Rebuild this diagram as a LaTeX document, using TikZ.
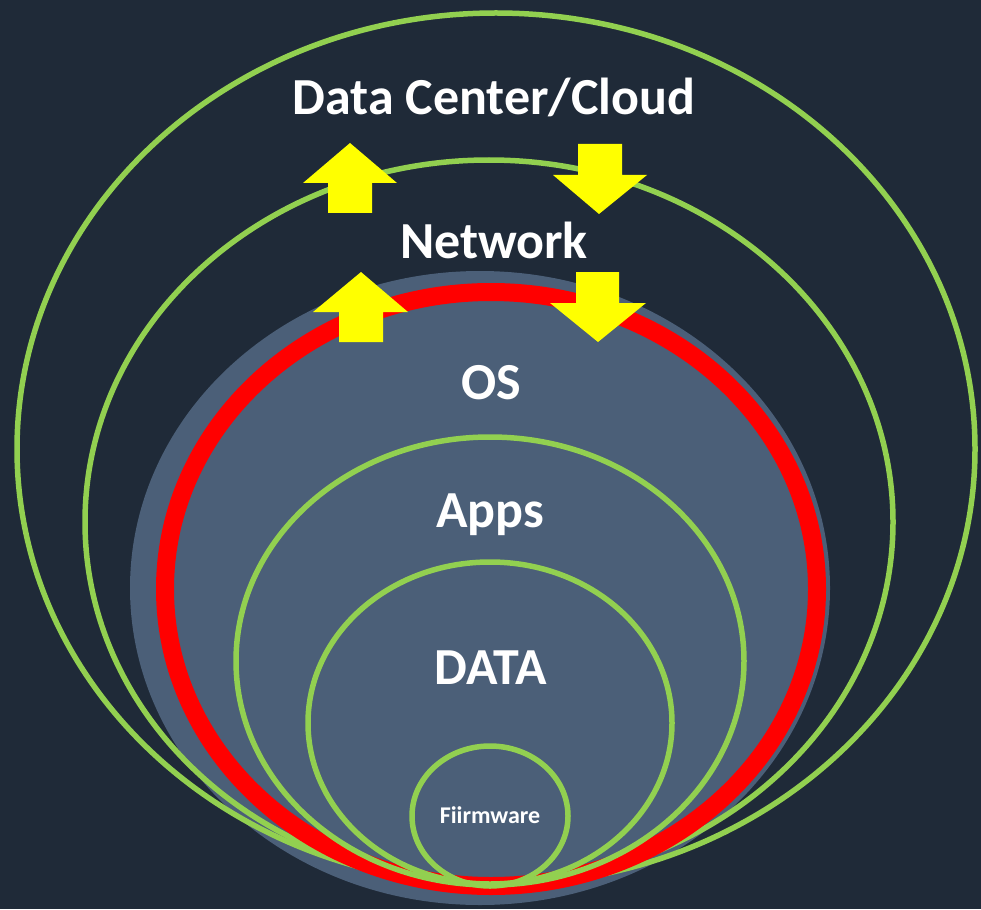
\documentclass[tikz,border=0pt]{standalone}
\usepackage{fontspec}
\setmainfont{Carlito}
\definecolor{bgnavy}{RGB}{31,42,56}
\definecolor{osfill}{RGB}{75,95,120}
\definecolor{ringgreen}{RGB}{146,208,80}
\definecolor{ringred}{RGB}{255,0,0}
\definecolor{flowyellow}{RGB}{255,255,0}
\tikzset{
  ring/.style={draw=ringgreen, line width=5.5pt},
  redring/.style={draw=ringred, line width=18pt},
  layerlabel/.style={text=white, font=\bfseries\fontsize{52}{56}\selectfont, inner sep=0pt},
  smalllabel/.style={text=white, font=\bfseries\fontsize{24}{28}\selectfont, inner sep=0pt},
  flowarrow/.style={fill=flowyellow, draw=none}
}
\begin{document}
\begin{tikzpicture}[x=1pt,y=-1pt]
\useasboundingbox (0,0) rectangle (981,909);
\fill[bgnavy] (0,0) rectangle (981,909);

% device body
\fill[osfill] (480,588) ellipse [x radius=350pt, y radius=317pt];

% outer layers
\draw[ring] (496,449) ellipse [x radius=479pt, y radius=436pt];
\draw[ring] (489,522) ellipse [x radius=404pt, y radius=362pt];

% red boundary of the device
\draw[redring] (491,589) ellipse [x radius=326pt, y radius=297pt];

% inner layers
\draw[ring] (490,661) ellipse [x radius=254pt, y radius=224pt];
\draw[ring] (490,723) ellipse [x radius=182pt, y radius=161pt];
\draw[ring] (490,816) ellipse [x radius=78pt, y radius=70pt];

% labels
\node[layerlabel] (cloud) at (494,97) {Data Center/Cloud};
\node[layerlabel] (net) at (494,240) {Network};
\node[layerlabel] (os) at (491,383) {OS};
\node[layerlabel] (apps) at (490,515) {Apps};
\node[layerlabel] (data) at (491,668) {DATA};
\node[smalllabel] (fw) at (490,815) {Fiirmware};

% upward flows
\fill[flowarrow] (350,143) -- (397,183) -- (372,183) -- (372,213) -- (328,213) -- (328,183) -- (303,183) -- cycle;
\fill[flowarrow] (361,272) -- (408,312) -- (383,312) -- (383,342) -- (339,342) -- (339,312) -- (313,312) -- cycle;

% downward flows
\fill[flowarrow] (578,144) -- (622,144) -- (622,175) -- (647,175) -- (599,214) -- (553,175) -- (578,175) -- cycle;
\fill[flowarrow] (576,272) -- (619,272) -- (619,303) -- (646,303) -- (598,342) -- (550,303) -- (576,303) -- cycle;
\end{tikzpicture}
\end{document}
